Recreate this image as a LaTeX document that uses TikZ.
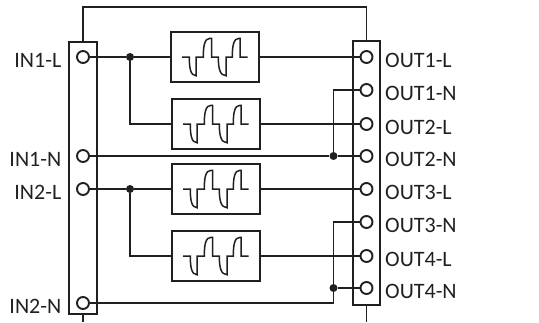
\documentclass[tikz,border=0pt]{standalone}
\usepackage{fontspec}
\setmainfont{Carlito}
\tikzset{
    wire/.style={line width=1.9pt, draw=wirecol},
    bar/.style={draw=wirecol, line width=1.9pt, minimum width=27.5pt, inner sep=0pt},
    filter/.style={draw=wirecol, line width=2pt, fill=white, minimum width=88pt, minimum height=50pt, inner sep=0pt},
    term/.style={circle, draw=wirecol, line width=1.9pt, fill=white, minimum size=12pt, inner sep=0pt},
    dot/.style={circle, fill=wirecol, minimum size=8pt, inner sep=0pt},
    lab/.style={text=wirecol, font=\fontsize{22}{22}\selectfont, inner sep=0pt},
    pics/wave/.style={code={
        \draw[wire, line width=1.5pt] (-33,0) -- (-25.7,0) .. controls (-25.7,11) and (-24.5,18.7) .. (-19,18.7) -- (-19,0) -- (-11.7,0)
            .. controls (-11.7,-11) and (-10.5,-18.7) .. (-5,-18.7) -- (-3.3,-18.7) -- (-3.3,0) -- (3.3,0)
            .. controls (3.3,11) and (4.8,18.7) .. (11,18.7) -- (11,0) -- (17.3,0)
            .. controls (17.3,-11) and (18.5,-18.7) .. (24,-18.7) -- (25,-18.7) -- (25,0) -- (32.7,0);
    }}
}
\definecolor{wirecol}{RGB}{35,31,32}
\begin{document}
\begin{tikzpicture}[x=1pt, y=-1pt]
    \useasboundingbox (0,0) rectangle (539,322);

    % terminal bars
    \node[bar, minimum height=272.5pt] (leftbar) at (83,178) {};
    \node[bar, minimum height=264pt] (rightbar) at (366.5,173) {};
    \coordinate (top) at (83,7);
    \coordinate (leftend) at (83,322);
    \coordinate (rightend) at (366.5,322);
    \draw[wire] (leftbar.north) -- (top) -| (rightbar.north);
    \draw[wire] (leftbar.south) -- (leftend);
    \draw[wire] (rightbar.south) -- (rightend);

    % input terminals
    \foreach \name/\txt/\ypos in {inAL/IN1-L/57, inAN/IN1-N/156, inBL/IN2-L/189, inBN/IN2-N/303} {
        \node[term] (\name) at (83,\ypos) {};
        \node[lab, anchor=east] (\name-lab) at (61.5,\ypos+3.5) {\txt};
    }

    % output terminals
    \foreach \name/\txt/\ypos in {outAL/OUT1-L/57, outAN/OUT1-N/90, outBL/OUT2-L/124, outBN/OUT2-N/156,
                                  outCL/OUT3-L/189, outCN/OUT3-N/222, outDL/OUT4-L/256, outDN/OUT4-N/288} {
        \node[term] (\name) at (366.5,\ypos) {};
        \node[lab, anchor=west] (\name-lab) at (385,\ypos+3.5) {\txt};
    }

    % filter boxes
    \foreach \name/\xpos/\ypos in {boxA/215/57, boxB/216/124, boxC/216/189, boxD/216/256} {
        \node[filter] (\name) at (\xpos,\ypos) {};
        \pic at (\name) {wave};
    }

    % junctions
    \node[dot] (splitA) at (130,57) {};
    \node[dot] (splitB) at (130,189) {};
    \node[dot] (joinA) at (333.5,156) {};
    \node[dot] (joinB) at (333.5,288) {};

    % line side
    \draw[wire] (inAL) -- (splitA) -- (boxA);
    \draw[wire] (splitA) |- (boxB);
    \draw[wire] (inBL) -- (splitB) -- (boxC);
    \draw[wire] (splitB) |- (boxD);
    \draw[wire] (boxA) -- (outAL);
    \draw[wire] (boxB) -- (outBL);
    \draw[wire] (boxC) -- (outCL);
    \draw[wire] (boxD) -- (outDL);

    % neutral side
    \draw[wire] (inAN) -- (joinA) -- (outBN);
    \draw[wire] (joinA) |- (outAN);
    \draw[wire] (inBN) -| (joinB) -- (outDN);
    \draw[wire] (joinB) |- (outCN);
\end{tikzpicture}
\end{document}
